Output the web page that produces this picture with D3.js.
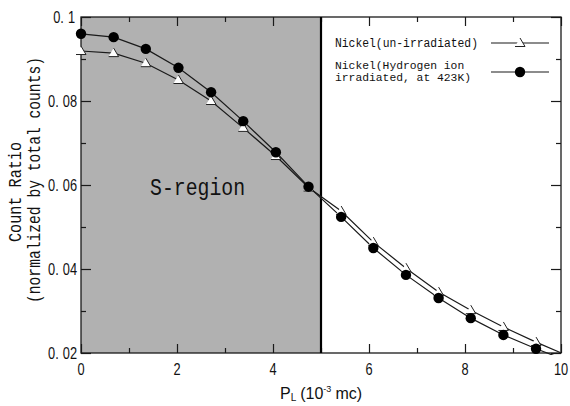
<!DOCTYPE html>
<html><head><meta charset="utf-8">
<script src="https://cdn.jsdelivr.net/npm/d3@7"></script>
<style>
body{margin:0;background:#fff;}
svg{display:block;}
</style></head>
<body>
<script>
// ---- data ----
const pl = [0, 0.68, 1.35, 2.03, 2.71, 3.38, 4.06, 4.74, 5.42, 6.09, 6.77, 7.45, 8.12, 8.80, 9.48, 10.15];
const irradiated = [0.0960, 0.0952, 0.0924, 0.0879, 0.0821, 0.0752, 0.0678, 0.0596, 0.0524, 0.0450, 0.0386, 0.0331, 0.0283, 0.0243, 0.0210, 0.0181];
const unirradiated = [0.0919, 0.0914, 0.0890, 0.0850, 0.0800, 0.0736, 0.0669, 0.0594, 0.0538, 0.0464, 0.0402, 0.0345, 0.0302, 0.0262, 0.0226, 0.0193];
const xMajor = [0, 2, 4, 6, 8, 10];
const xMinor = [1, 3, 5, 7, 9];
const yMajor = [0.02, 0.04, 0.06, 0.08, 0.1];
const yMinor = [0.03, 0.05, 0.07, 0.09];
const sRegion = [0, 5];
const seriesNames = ["Nickel(un-irradiated)", ["Nickel(Hydrogen ion", "irradiated, at 423K)"]];

const W = 570, H = 406;
const svg = d3.select("body").append("svg").attr("width", W).attr("height", H);
const x = d3.scaleLinear().domain([0, 10]).range([81, 561]);
const y = d3.scaleLinear().domain([0.02, 0.1]).range([353, 17]);
const ink = "#1a1a1a";
const mono = "'Liberation Mono', 'DejaVu Sans Mono', monospace";
const sans = "'Liberation Sans', Arial, sans-serif";

// S-region shading
svg.append("rect")
  .attr("x", x(sRegion[0])).attr("y", y(0.1))
  .attr("width", x(sRegion[1]) - x(sRegion[0]))
  .attr("height", y(0.02) - y(0.1))
  .attr("fill", "#b1b1b1");

// S-region label
svg.append("text").attr("x", 150).attr("y", 195)
  .attr("font-family", mono).attr("font-size", 24).attr("fill", "#111")
  .attr("textLength", 95).attr("lengthAdjust", "spacingAndGlyphs")
  .text("S-region");

// axes
function styleAxis(g){ g.select(".domain").remove(); g.selectAll("line").attr("stroke", ink).attr("stroke-width", 1.2); }
svg.append("g").attr("transform", `translate(0,${y(0.02)})`).call(d3.axisBottom(x).tickValues(xMajor).tickSize(-9).tickFormat("")).call(styleAxis);
svg.append("g").attr("transform", `translate(0,${y(0.02)})`).call(d3.axisBottom(x).tickValues(xMinor).tickSize(-5).tickFormat("")).call(styleAxis);
svg.append("g").attr("transform", `translate(0,${y(0.1)})`).call(d3.axisTop(x).tickValues(xMajor).tickSize(-9).tickFormat("")).call(styleAxis);
svg.append("g").attr("transform", `translate(0,${y(0.1)})`).call(d3.axisTop(x).tickValues(xMinor).tickSize(-5).tickFormat("")).call(styleAxis);
svg.append("g").attr("transform", `translate(${x(0)},0)`).call(d3.axisLeft(y).tickValues(yMajor).tickSize(-10).tickFormat("")).call(styleAxis);
svg.append("g").attr("transform", `translate(${x(0)},0)`).call(d3.axisLeft(y).tickValues(yMinor).tickSize(-5).tickFormat("")).call(styleAxis);
svg.append("g").attr("transform", `translate(${x(10)},0)`).call(d3.axisRight(y).tickValues(yMajor).tickSize(-10).tickFormat("")).call(styleAxis);
svg.append("g").attr("transform", `translate(${x(10)},0)`).call(d3.axisRight(y).tickValues(yMinor).tickSize(-5).tickFormat("")).call(styleAxis);

// frame
svg.append("rect").attr("x", x(0)).attr("y", y(0.1)).attr("width", x(10) - x(0)).attr("height", y(0.02) - y(0.1))
  .attr("fill", "none").attr("stroke", ink).attr("stroke-width", 1.3);

// boundary line at PL = 5
svg.append("line").attr("x1", x(sRegion[1])).attr("x2", x(sRegion[1])).attr("y1", y(0.1)).attr("y2", y(0.02))
  .attr("stroke", "#000").attr("stroke-width", 2.2);

// x tick labels
svg.append("g").selectAll("text").data(xMajor).join("text")
  .attr("transform", d => `translate(${x(d)},375) scale(0.8,1)`)
  .attr("text-anchor", "middle").attr("font-family", sans).attr("font-size", 16).attr("fill", "#111")
  .text(d => d);

// y tick labels
const yl = svg.append("g").selectAll("text").data(yMajor).join("text")
  .attr("transform", d => `translate(${d === 0.1 ? 75 : 77},${y(d) + 6}) scale(0.8,1)`)
  .attr("text-anchor", "end").attr("font-family", sans).attr("font-size", 16).attr("fill", "#111");
yl.each(function(d){
  const s = d3.format(".2~f")(d);
  const parts = s.split(".");
  const t = d3.select(this);
  t.append("tspan").text(parts[0] + ".");
  t.append("tspan").attr("dx", 5).text(parts[1]);
});

// axis titles
svg.append("text").attr("transform", "translate(21,192) rotate(-90)")
  .attr("text-anchor", "middle").attr("font-family", mono).attr("font-size", 18).attr("fill", "#111")
  .attr("textLength", 100).attr("lengthAdjust", "spacingAndGlyphs").text("Count Ratio");
svg.append("text").attr("transform", "translate(40,180) rotate(-90)")
  .attr("text-anchor", "middle").attr("font-family", mono).attr("font-size", 18).attr("fill", "#111")
  .attr("textLength", 246).attr("lengthAdjust", "spacingAndGlyphs").text("(normalized by total counts)");

const xt = svg.append("text").attr("x", 280).attr("y", 399)
  .attr("font-family", sans).attr("font-size", 16).attr("fill", "#111");
xt.append("tspan").text("P");
xt.append("tspan").attr("font-size", 10).attr("dy", 2).text("L");
xt.append("tspan").attr("dy", -2).attr("dx", 4).text("(10");
xt.append("tspan").attr("font-size", 9).attr("dy", -7).text("-3");
xt.append("tspan").attr("dy", 7).attr("dx", 4).text("mc)");

// clip
svg.append("clipPath").attr("id", "clip").append("rect")
  .attr("x", 74).attr("y", 10).attr("width", x(10) - 74).attr("height", y(0.02) - 8);
const plot = svg.append("g").attr("clip-path", "url(#clip)");

const line = d3.line().x(d => x(d[0])).y(d => y(d[1]));
const dU = pl.map((p, i) => [p, unirradiated[i]]);
const dI = pl.map((p, i) => [p, irradiated[i]]);

plot.append("path").datum(dU).attr("d", line).attr("fill", "none").attr("stroke", ink).attr("stroke-width", 1.2);
plot.append("path").datum(dI).attr("d", line).attr("fill", "none").attr("stroke", ink).attr("stroke-width", 1.2);

function triangle(g){
  g.append("path").attr("d", "M0,-5 L5,3.5 L-5,3.5 Z").attr("fill", "#fff");
  g.append("path").attr("d", "M0,-5 L5,3.5 L-5,3.5").attr("fill", "none").attr("stroke", "#222").attr("stroke-width", 1);
}
plot.selectAll("g.tri").data(dU).join("g").attr("class", "tri")
  .attr("transform", d => `translate(${x(d[0])},${y(d[1])})`).each(function(){ triangle(d3.select(this)); });
plot.selectAll("circle.irr").data(dI).join("circle").attr("class", "irr")
  .attr("cx", d => x(d[0])).attr("cy", d => y(d[1])).attr("r", 5.2).attr("fill", "#000");

// legend
const leg = svg.append("g");
leg.append("text").attr("x", 335).attr("y", 47).attr("font-family", mono).attr("font-size", 12).attr("fill", "#111")
  .attr("textLength", 143).attr("lengthAdjust", "spacingAndGlyphs").text(seriesNames[0]);
seriesNames[1].forEach((s, i) => {
  leg.append("text").attr("x", 335).attr("y", 69 + i * 12).attr("font-family", mono).attr("font-size", 11.5).attr("fill", "#111")
    .attr("textLength", s.length * 6.8).attr("lengthAdjust", "spacingAndGlyphs").text(s);
});
leg.append("line").attr("x1", 491).attr("x2", 549).attr("y1", 43).attr("y2", 43).attr("stroke", ink).attr("stroke-width", 1.2);
const lt = leg.append("g").attr("transform", "translate(520,43)");
triangle(lt);
leg.append("line").attr("x1", 491).attr("x2", 549).attr("y1", 72).attr("y2", 72).attr("stroke", ink).attr("stroke-width", 1.2);
leg.append("circle").attr("cx", 520).attr("cy", 72).attr("r", 5.2).attr("fill", "#000");
</script>
</body></html>
